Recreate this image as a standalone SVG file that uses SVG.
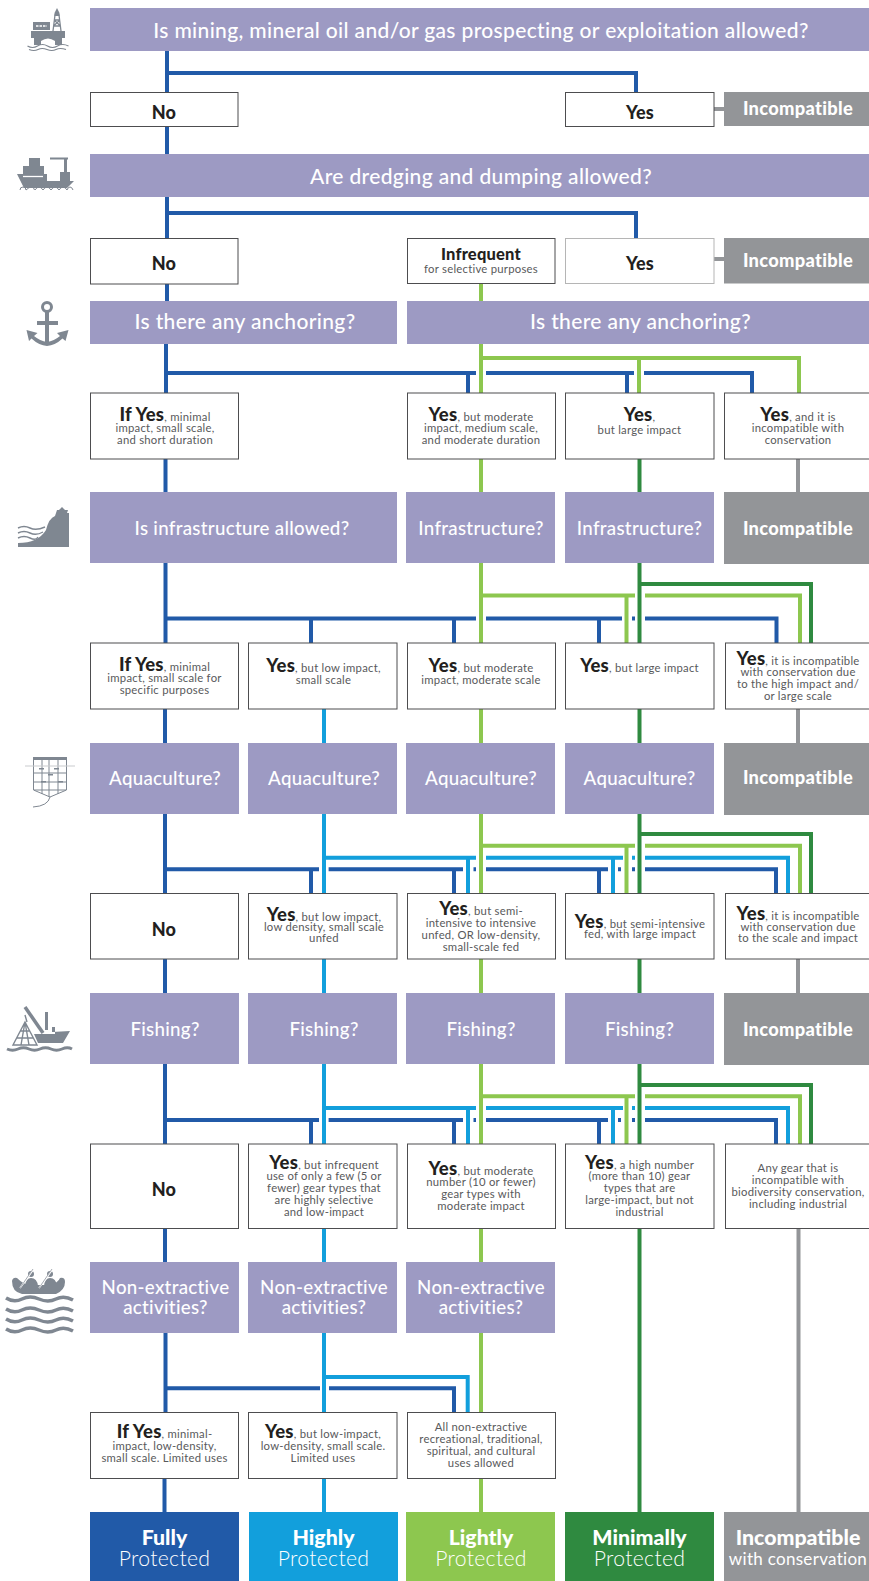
<svg xmlns="http://www.w3.org/2000/svg" width="869" height="1581" viewBox="0 0 869 1581">
<style>
text{font-family:"Lato","Liberation Sans",sans-serif;text-anchor:middle}
.q{fill:#9d9ac3}.g{fill:#939598}
.qt{fill:#fff;font-size:21px;font-weight:500;letter-spacing:.35px}
.qs{fill:#fff;font-size:18.700px;font-weight:500;letter-spacing:.3px}
.it{fill:#fff;font-size:18.300px;font-weight:900;letter-spacing:.3px}
.b{fill:#fff;stroke:#4d4d4f;stroke-width:1}
.s{fill:#58595b;font-size:11.300px;letter-spacing:.25px}
.y{fill:#231f20;font-size:18.500px;font-weight:900}
.n{fill:#231f20;font-size:18px;font-weight:900;letter-spacing:.2px}
.c{fill:none;stroke-width:4}
.cb{stroke:#215aa8}.cl{stroke:#129fdc}.cg{stroke:#8dc74f}.cd{stroke:#2f8a40}.cy{stroke:#939598}
.r1{fill:#fff;font-size:21.300px;font-weight:900}
.r2{fill:#fff;font-size:21.200px;font-weight:300;letter-spacing:.3px}
.ic{fill:#7f8791}.il{fill:none;stroke:#7f8791}.iw{fill:none;stroke:#fff}
</style>
<g id="connectors">
<path class="c cb" d="M167 51V92.5M167 73H636V92.5M167 126V154M167 197V238.500M167 213H636V238.500M167 284V301M166 344V393M166 373H476M486 373H634M644 373H752V393M468 373V393M627 373V393M165.500 459V492M165.500 563V643M165.500 618.500H476M486 618.500H622M632 618.500H635M645 618.500H776.500V643M311 618.500V643M454 618.500V643M599 618.500V643M165 709V743M165 814V893.500M165 869.300H319M328.600 869.300H463M473.500 869.300H476M486 869.300H608M618 869.300H621M632 869.300H635M645 869.300H776V893.500M311 869.300V893.500M454 869.300V893.500M599 869.300V893.500M165 959V993M165 1064V1144M165 1120H319M328.600 1120H463M473.500 1120H476M486 1120H608M618 1120H621M632 1120H635M645 1120H776V1144M311 1120V1144M454 1120V1144M599 1120V1144M165 1228V1262M165.500 1333V1412M165.500 1388.300H320M329 1388.300H454V1412M164.500 1478V1512"/>
<path class="c cl" d="M324 709V743M324 814V893.500M324 857.700H476M486 857.700H623M632 857.700H635M645 857.700H788V893.500M468 857.700V893.500M613 857.700V893.500M324 959V993M324 1064V1144M324 1108H476M486 1108H623M632 1108H635M645 1108H788V1144M468 1108V1144M613 1108V1144M324 1228V1262M324 1333V1412M324 1377H467.700V1412M324 1478V1512"/>
<path class="c cg" d="M481 284V301M481 344V393M481 358H799V393M639 358V393M481 459V492M481 563V643M481 595.500H635M645 595.500H800V643M626.500 595.500V643M481 709V743M481 814V893.500M481 845.700H635M645 845.700H800V893.500M626.500 845.700V893.500M481 959V993M481 1064V1144M481 1096.300H635M645 1096.300H800V1144M626.500 1096.300V1144M481 1228V1262M481 1333V1412M481 1478V1512"/>
<path class="c cd" d="M639.500 459V492M639.500 563V643M639.500 584H811V643M639.500 709V743M639.500 814V893.500M639.500 834H811V893.500M639.500 959V993M639.500 1064V1144M639.500 1085H811V1144M639.500 1228V1512"/>
<path class="c cy" d="M714 109H724M714 259H724M798 459V492M798 709V743M798 959V993M798.500 1228V1512"/>
</g>
<g id="q1"><rect class="q" x="90" y="8" width="779" height="43"/><text class="qt" x="481" y="37.500">Is mining, mineral oil and/or gas prospecting or exploitation allowed?</text></g>
<g id="no1"><rect class="b" x="90.500" y="92.500" width="147.500" height="34"/><text class="n" x="164" y="119">No</text></g>
<g id="yes1"><rect class="b" x="565.500" y="92.500" width="148.500" height="34"/><text class="n" x="640" y="119">Yes</text></g>
<g id="inc1"><rect class="g" x="724" y="92" width="145" height="34"/><text class="it" x="798" y="115">Incompatible</text></g>
<g id="q2"><rect class="q" x="90" y="154" width="779" height="43"/><text class="qt" x="481" y="183.500">Are dredging and dumping allowed?</text></g>
<g id="no2"><rect class="b" x="90.500" y="238.500" width="147.500" height="45.500"/><text class="n" x="164" y="270">No</text></g>
<g id="infrequent"><rect class="b" x="407.500" y="238.500" width="147.500" height="45"/><text class="n" x="481" y="259.500" style="font-size:16.500px">Infrequent</text><text class="s" x="481" y="273">for selective purposes</text></g>
<g id="yes2"><rect class="b" x="565.500" y="238.500" width="148.500" height="45" style="stroke:#b5b5b5"/><text class="n" x="640" y="270">Yes</text></g>
<g id="inc2"><rect class="g" x="724" y="238" width="145" height="45.500"/><text class="it" x="798" y="267">Incompatible</text></g>
<g id="q3a"><rect class="q" x="90" y="301" width="307" height="43"/><text class="qt" x="245" y="328.500">Is there any anchoring?</text></g>
<g id="q3b"><rect class="q" x="407" y="301" width="462" height="43"/><text class="qt" x="640.500" y="328.500">Is there any anchoring?</text></g>
<g id="a1"><rect class="b" x="90.500" y="393" width="148" height="66"/><text class="s" x="165" y="420.500"><tspan class="y">If Yes</tspan>, minimal</text><text class="s" x="165" y="432">impact, small scale,</text><text class="s" x="165" y="444">and short duration</text></g>
<g id="a2"><rect class="b" x="407.500" y="393" width="148" height="66"/><text class="s" x="481" y="420.500"><tspan class="y">Yes</tspan>, but moderate</text><text class="s" x="481" y="432">impact, medium scale,</text><text class="s" x="481" y="444">and moderate duration</text></g>
<g id="a3"><rect class="b" x="565.500" y="393" width="148.500" height="66"/><text class="s" x="639.500" y="420.500"><tspan class="y">Yes</tspan>,</text><text class="s" x="639.500" y="434">but large impact</text></g>
<g id="a4"><rect class="b" x="724.500" y="393" width="150" height="66"/><text class="s" x="798" y="420.500"><tspan class="y">Yes</tspan>, and it is</text><text class="s" x="798" y="432">incompatible with</text><text class="s" x="798" y="444">conservation</text></g>
<g id="q4a"><rect class="q" x="90" y="492" width="307" height="71"/><text class="qs" x="242" y="534.500">Is infrastructure allowed?</text></g>
<g id="q4b"><rect class="q" x="406" y="492" width="149" height="71"/><text class="qs" x="481" y="534.500">Infrastructure?</text></g>
<g id="q4c"><rect class="q" x="565" y="492" width="149" height="71"/><text class="qs" x="639.500" y="534.500">Infrastructure?</text></g>
<g id="inc4"><rect class="g" x="724" y="492" width="145" height="72"/><text class="it" x="798" y="534.500">Incompatible</text></g>
<g id="b1"><rect class="b" x="90.500" y="643" width="148" height="66"/><text class="s" x="164.500" y="670.500"><tspan class="y">If Yes</tspan>, minimal</text><text class="s" x="164.500" y="682">impact, small scale for</text><text class="s" x="164.500" y="694">specific purposes</text></g>
<g id="b2"><rect class="b" x="248.500" y="643" width="148.500" height="66"/><text class="s" x="323.500" y="672"><tspan class="y">Yes</tspan>, but low impact,</text><text class="s" x="323.500" y="684">small scale</text></g>
<g id="b3"><rect class="b" x="407.500" y="643" width="148" height="66"/><text class="s" x="481" y="672"><tspan class="y">Yes</tspan>, but moderate</text><text class="s" x="481" y="684">impact, moderate scale</text></g>
<g id="b4"><rect class="b" x="565.500" y="643" width="148.500" height="66"/><text class="s" x="639.500" y="672"><tspan class="y">Yes</tspan>, but large impact</text></g>
<g id="b5"><rect class="b" x="725.500" y="643" width="150" height="66"/><text class="s" x="798" y="664.500"><tspan class="y">Yes</tspan>, it is incompatible</text><text class="s" x="798" y="676">with conservation due</text><text class="s" x="798" y="688">to the high impact and/</text><text class="s" x="798" y="700">or large scale</text></g>
<g id="q5a"><rect class="q" x="90" y="743" width="149" height="71"/><text class="qs" x="165" y="785">Aquaculture?</text></g>
<g id="q5b"><rect class="q" x="248" y="743" width="149" height="71"/><text class="qs" x="324" y="785">Aquaculture?</text></g>
<g id="q5c"><rect class="q" x="406" y="743" width="149" height="71"/><text class="qs" x="481" y="785">Aquaculture?</text></g>
<g id="q5d"><rect class="q" x="565" y="743" width="149" height="71"/><text class="qs" x="639.500" y="785">Aquaculture?</text></g>
<g id="inc5"><rect class="g" x="724" y="743" width="145" height="72"/><text class="it" x="798" y="784">Incompatible</text></g>
<g id="c1"><rect class="b" x="90.500" y="893.500" width="148" height="65.500"/><text class="n" x="164" y="935.500">No</text></g>
<g id="c2"><rect class="b" x="248.500" y="893.500" width="148.500" height="65.500"/><text class="s" x="324" y="920.500"><tspan class="y">Yes</tspan>, but low impact,</text><text class="s" x="324" y="931">low density, small scale</text><text class="s" x="324" y="942">unfed</text></g>
<g id="c3"><rect class="b" x="407.500" y="893.500" width="148" height="65.500"/><text class="s" x="481" y="915"><tspan class="y">Yes</tspan>, but semi-</text><text class="s" x="481" y="927">intensive to intensive</text><text class="s" x="481" y="939">unfed, OR low-density,</text><text class="s" x="481" y="951">small-scale fed</text></g>
<g id="c4"><rect class="b" x="565.500" y="893.500" width="148.500" height="65.500"/><text class="s" x="640" y="927.500"><tspan class="y">Yes</tspan>, but semi-intensive</text><text class="s" x="640" y="938">fed, with large impact</text></g>
<g id="c5"><rect class="b" x="725.500" y="893.500" width="150" height="65.500"/><text class="s" x="798" y="920"><tspan class="y">Yes</tspan>, it is incompatible</text><text class="s" x="798" y="931">with conservation due</text><text class="s" x="798" y="942">to the scale and impact</text></g>
<g id="q6a"><rect class="q" x="90" y="993" width="149" height="71"/><text class="qs" x="165" y="1035.500">Fishing?</text></g>
<g id="q6b"><rect class="q" x="248" y="993" width="149" height="71"/><text class="qs" x="324" y="1035.500">Fishing?</text></g>
<g id="q6c"><rect class="q" x="406" y="993" width="149" height="71"/><text class="qs" x="481" y="1035.500">Fishing?</text></g>
<g id="q6d"><rect class="q" x="565" y="993" width="149" height="71"/><text class="qs" x="639.500" y="1035.500">Fishing?</text></g>
<g id="inc6"><rect class="g" x="724" y="993" width="145" height="72"/><text class="it" x="798" y="1035.500">Incompatible</text></g>
<g id="d1"><rect class="b" x="90.500" y="1144" width="148" height="84.500"/><text class="n" x="164" y="1196">No</text></g>
<g id="d2"><rect class="b" x="248.500" y="1144" width="148.500" height="84.500"/><text class="s" x="324" y="1168.500"><tspan class="y">Yes</tspan>, but infrequent</text><text class="s" x="324" y="1180">use of only a few (5 or</text><text class="s" x="324" y="1192">fewer) gear types that</text><text class="s" x="324" y="1204">are highly selective</text><text class="s" x="324" y="1216">and low-impact</text></g>
<g id="d3"><rect class="b" x="407.500" y="1144" width="148" height="84.500"/><text class="s" x="481" y="1174.500"><tspan class="y">Yes</tspan>, but moderate</text><text class="s" x="481" y="1186">number (10 or fewer)</text><text class="s" x="481" y="1198">gear types with</text><text class="s" x="481" y="1210">moderate impact</text></g>
<g id="d4"><rect class="b" x="565.500" y="1144" width="148.500" height="84.500"/><text class="s" x="639.500" y="1168.500"><tspan class="y">Yes</tspan>, a high number</text><text class="s" x="639.500" y="1180">(more than 10) gear</text><text class="s" x="639.500" y="1192">types that are</text><text class="s" x="639.500" y="1204">large-impact, but not</text><text class="s" x="639.500" y="1216">industrial</text></g>
<g id="d5"><rect class="b" x="725.500" y="1144" width="150" height="84.500"/><text class="s" x="798" y="1172">Any gear that is</text><text class="s" x="798" y="1184">incompatible with</text><text class="s" x="798" y="1196">biodiversity conservation,</text><text class="s" x="798" y="1208">including industrial</text></g>
<g id="q7a"><rect class="q" x="90" y="1262" width="149" height="71"/><text class="qs" x="165.500" y="1294">Non-extractive</text><text class="qs" x="165.500" y="1314">activities?</text></g>
<g id="q7b"><rect class="q" x="248" y="1262" width="149" height="71"/><text class="qs" x="324" y="1294">Non-extractive</text><text class="qs" x="324" y="1314">activities?</text></g>
<g id="q7c"><rect class="q" x="406" y="1262" width="149" height="71"/><text class="qs" x="481" y="1294">Non-extractive</text><text class="qs" x="481" y="1314">activities?</text></g>
<g id="e1"><rect class="b" x="90.500" y="1412.500" width="148" height="66"/><text class="s" x="164.500" y="1438"><tspan class="y">If Yes</tspan>, minimal-</text><text class="s" x="164.500" y="1450">impact, low-density,</text><text class="s" x="164.500" y="1462">small scale. Limited uses</text></g>
<g id="e2"><rect class="b" x="248.500" y="1412.500" width="148.500" height="66"/><text class="s" x="323" y="1438"><tspan class="y">Yes</tspan>, but low-impact,</text><text class="s" x="323" y="1450">low-density, small scale.</text><text class="s" x="323" y="1462">Limited uses</text></g>
<g id="e3"><rect class="b" x="407.500" y="1412.500" width="148" height="66"/><text class="s" x="481" y="1431">All non-extractive</text><text class="s" x="481" y="1443">recreational, traditional,</text><text class="s" x="481" y="1455">spiritual, and cultural</text><text class="s" x="481" y="1467">uses allowed</text></g>
<g id="fully"><rect x="90" y="1512" width="149" height="69" fill="#215aa8"/><text class="r1" x="164.500" y="1544.500">Fully</text><text class="r2" x="164.500" y="1566">Protected</text></g>
<g id="highly"><rect x="249" y="1512" width="149" height="69" fill="#129fdc"/><text class="r1" x="323.500" y="1544.500">Highly</text><text class="r2" x="323.500" y="1566">Protected</text></g>
<g id="lightly"><rect x="406" y="1512" width="149" height="69" fill="#8dc74f"/><text class="r1" x="481" y="1544.500">Lightly</text><text class="r2" x="481" y="1566">Protected</text></g>
<g id="minimally"><rect x="565" y="1512" width="149" height="69" fill="#2f8a40"/><text class="r1" x="639.500" y="1544.500">Minimally</text><text class="r2" x="639.500" y="1566">Protected</text></g>
<g id="incompatible"><rect x="724" y="1512" width="145" height="69" fill="#939598"/><text class="r1" x="798" y="1544.500">Incompatible</text><text class="r2" x="798" y="1565" style="font-size:17px;font-weight:400">with conservation</text></g>
<g id="icons">
<g id="icon-rig"><path class="ic" d="M31 31H65V38H62V45H55V41Q48 36 41 41V45H34V38H31ZM33 22H50V30H33Z"/><path class="iw" d="M36 26H47" stroke-width="1.500" stroke-dasharray="2.500 1"/><path class="il" d="M53 31L55 15H59L61 31M53.500 26H60.500M54 20H60M53.500 26L60 20M60.500 26L54 20" stroke-width="1.300"/><path class="ic" d="M57 8L59.500 13V16H54.500V13Z"/><path class="il" d="M27.500 46q5 3 10 0t10 0t10 0t11 0M29 49.500q5 2 9 0t9 0t9 0t10 0" stroke-width="1.100"/></g>
<g id="icon-ship"><path class="ic" d="M17 174H47V181H60V172H70V181H74L67 188H24ZM23 166H44V174H23ZM29 158H40V166H29ZM64 158H67V172H64ZM50 157.500H68V159.500H50Z"/><path class="iw" d="M23 176.500H43" stroke-width="1.300"/><path class="il" d="M20 190q0-3 3-3h0q3 0 3 3M26 190q3-3 5.500-3t3 3M35 190q2-3 4-3t4 3M43 190q2-3 4-3t4 3M51 190q2-3 4-3t4 3M59 190q2-3 4-3t4 3M67 190q1-3 3-3t3 3" stroke-width="1"/></g>
<g id="icon-anchor"><path class="il" d="M47 311V344M37 323H58" stroke-width="4"/><circle class="il" cx="47" cy="307" r="4.500" stroke-width="3"/><path class="ic" d="M26.500 330L37.500 333L34 336Q40 341 47 342Q54 341 60 336L57 333L68.500 330L65.500 341L62.500 338.500Q55 345.500 47 346Q39 345.500 31.500 338.500L29 341Z"/></g>
<g id="icon-shore"><path class="ic" d="M18 547V543Q38 543 46 530Q49 518 55 516L57 510H59L62 507L65 510H68L67 513H69V547Z"/><path class="il" d="M18 528q6-3 12 0t15-1M18 533q6-3 12 0t13-1M18 538q6-3 12 0t8-1" stroke-width="1.400"/></g>
<g id="icon-cage"><path class="il" d="M33.500 760V790L50 797L66.500 790V760M34 773H66M34 782H66M34 790H66M42 760V794M49 760V797M58 760V794" stroke-width="1"/><path class="ic" d="M33 757H67V760H33Z"/><path class="il" d="M25 766H75" stroke-width="1" style="stroke:#c9cbce"/><path class="il" d="M50 797Q48 806 33 807" stroke-width="1"/><path class="ic" d="M39 768h5v1.500h-5zM54 768h5v1.500h-5zM48 774h5v1.500h-5zM41 781h5v1.500h-5zM58 781h5v1.500h-5z"/></g>
<g id="icon-boat"><path class="ic" d="M38 1043L34 1034H55V1027H48V1012H45V1012H48V1027H52V1032L70 1031L63 1043ZM45 1012H48V1030H45Z"/><path class="iw" d="M48.500 1029H52" stroke-width="3"/><path class="il" d="M25 1007L43 1033" stroke-width="3.500"/><path class="il" d="M25 1022L13 1045H37ZM25 1022L21 1045M25 1022L29 1045M17 1038H33M20 1031H30M25 1015L27 1022" stroke-width="1.400"/><path class="il" d="M7 1049q5.500 2.500 11 0t11 0t11 0t11 0t11 0t10 0" stroke-width="3"/></g>
<g id="icon-raft"><path class="ic" d="M12 1281Q13 1277 17 1278Q24 1285 30 1285H50Q58 1283 60 1278Q65 1277 65 1282Q65 1290 56 1294H22Q12 1292 12 1281Z"/><circle class="ic" cx="31" cy="1274" r="3"/><circle class="ic" cx="50" cy="1274" r="3"/><path class="ic" d="M25 1286Q26 1278 31 1278Q37 1278 38 1286ZM44 1286Q45 1278 50 1278Q56 1278 57 1286Z"/><path class="iw" d="M20 1288L33 1270M39 1288L52 1270" stroke-width="1.500"/><path class="il" d="M20 1288L33 1269M39 1288L52 1269" stroke-width=".7"/><path class="il" d="M6 1298q8 5 16 1t17 0t17 0t17 1M6 1309q8 5 16 1t17 0t17 0t17 1M6 1319q8 5 16 1t17 0t17 0t17 1M6 1329q8 5 16 1t17 0t17 0t17 1" stroke-width="3.500"/></g>
</g>
</svg>
